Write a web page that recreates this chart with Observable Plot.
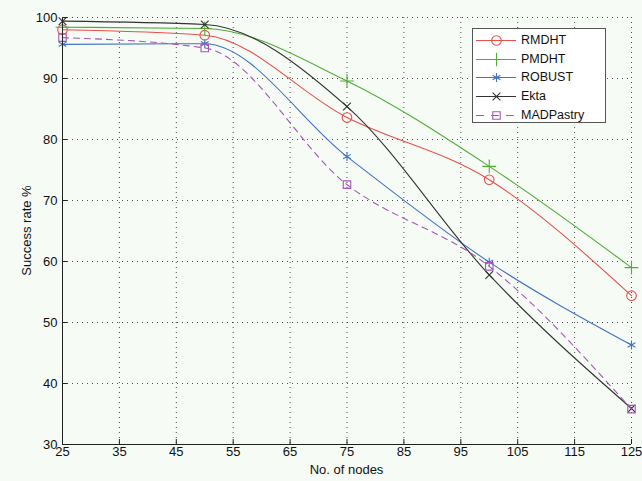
<!DOCTYPE html>
<html><head><meta charset="utf-8">
<script src="https://cdn.jsdelivr.net/npm/d3@7"></script>
<script src="https://cdn.jsdelivr.net/npm/@observablehq/plot@0.6"></script>
<style>
html,body{margin:0;padding:0;background:#f6fbf6;}
#wrap{position:relative;width:642px;height:481px;font-family:"Liberation Sans",Arial,sans-serif;}
#legend{position:absolute;left:472px;top:28px;width:134px;height:95px;border:1px solid #555;background:#fff;box-sizing:border-box;}
#legend .row{position:absolute;left:0;height:18px;display:flex;align-items:center;font-size:12.5px;color:#111;}
#legend svg{display:block;}
</style></head>
<body><div id="wrap"><div id="chart"></div><div id="legend"></div></div>
<script>
const nodes = [25, 50, 75, 100, 125];
const xTicks = [25, 35, 45, 55, 65, 75, 85, 95, 105, 115, 125];
const yTicks = [30, 40, 50, 60, 70, 80, 90, 100];
const seriesNames = ["RMDHT", "PMDHT", "ROBUST", "Ekta", "MADPastry"];
const rmdht = [98.0, 97.1, 83.6, 73.4, 54.4];
const pmdht = [98.4, 98.2, 89.6, 75.6, 59.0];
const robust = [95.6, 95.7, 77.2, 59.9, 46.3];
const ekta = [99.4, 98.85, 85.4, 57.8, 35.9];
const madpastry = [96.7, 95.0, 72.6, 59.2, 35.8];
const values = [rmdht, pmdht, robust, ekta, madpastry];

const colors = ["#e8504c", "#4fae34", "#4173bf", "#333333", "#a756b8"];
const symbols = ["circle", "plus", "asterisk", "times", "square"];
const dashes = [null, null, null, null, "6,5"];
const sizes = [4.8, 4.5, 4.2, 3.6, 4.2];

const data = seriesNames.flatMap((s, i) => nodes.map((n, j) => ({series: s, x: n, y: values[i][j]})));

const W = 642, H = 481, mL = 62, mR = 11, mT = 17, mB = 37;
const fw = W - mL - mR, fh = H - mT - mB;

const marks = [
  Plot.gridX(xTicks, {stroke: "#222", strokeOpacity: 0.8, strokeDasharray: "1,4"}),
  Plot.gridY(yTicks, {stroke: "#222", strokeOpacity: 0.8, strokeDasharray: "1,4"}),
];
seriesNames.forEach((s, i) => {
  const d = data.filter(r => r.series === s);
  marks.push(Plot.line(d, {x: "x", y: "y", stroke: colors[i], strokeWidth: 1.1, curve: "monotone-x", strokeDasharray: dashes[i]}));
  marks.push(Plot.dot(d, {x: "x", y: "y", symbol: symbols[i], stroke: colors[i], fill: "none", r: sizes[i], strokeWidth: 1.1}));
});
marks.push(
  Plot.ruleX([25], {stroke: "#222", strokeWidth: 1}),
  Plot.ruleY([30], {stroke: "#222", strokeWidth: 1}),
  Plot.tickY(yTicks, {y: d => d, stroke: "#222", insetRight: fw - 5}),
  Plot.tickX(xTicks, {x: d => d, stroke: "#222", insetTop: fh - 5}),
  Plot.axisY(yTicks, {tickSize: 0, tickPadding: 5, fontSize: 13, label: null, fill: "#111"}),
  Plot.axisX(xTicks, {tickSize: 0, tickPadding: 2, fontSize: 13, label: null, fill: "#111"})
);

const chart = Plot.plot({
  width: W, height: H,
  marginLeft: mL, marginRight: mR, marginTop: mT, marginBottom: mB,
  style: {background: "transparent", fontFamily: "'Liberation Sans', Arial, sans-serif", fontSize: "13px", color: "#111"},
  x: {domain: [25, 125]},
  y: {domain: [30, 100]},
  marks
});
const svg = d3.select(chart);
svg.append("text").attr("x", mL + fw / 2).attr("y", 474).attr("text-anchor", "middle")
  .attr("font-size", 13).attr("fill", "#111").text("No. of nodes");
svg.append("text").attr("transform", "translate(31," + (mT + fh / 2) + ") rotate(-90)")
  .attr("text-anchor", "middle").attr("font-size", 13).attr("fill", "#111").text("Success rate %");
document.getElementById("chart").appendChild(chart);

// legend
const leg = document.getElementById("legend");
const rowTops = [2, 21, 39, 58, 77];
seriesNames.forEach((s, i) => {
  const row = document.createElement("div");
  row.className = "row";
  row.style.top = rowTops[i] + "px";
  const sw = Plot.plot({
    width: 40, height: 18, margin: 0,
    x: {domain: [0, 40], axis: null}, y: {domain: [0, 1], axis: null},
    style: {background: "transparent"},
    marks: [
      Plot.line([{x: 0, y: 0.5}, {x: 40, y: 0.5}], {x: "x", y: "y", stroke: colors[i], strokeWidth: 1.1, strokeDasharray: dashes[i] ? "7,8" : null}),
      Plot.dot([{x: 20, y: 0.5}], {x: "x", y: "y", symbol: symbols[i], stroke: colors[i], r: sizes[i], strokeWidth: 1.1})
    ]
  });
  sw.style.marginLeft = "3px";
  row.appendChild(sw);
  const t = document.createElement("span");
  t.textContent = s;
  t.style.marginLeft = "5px";
  row.appendChild(t);
  leg.appendChild(row);
});
</script></body></html>
